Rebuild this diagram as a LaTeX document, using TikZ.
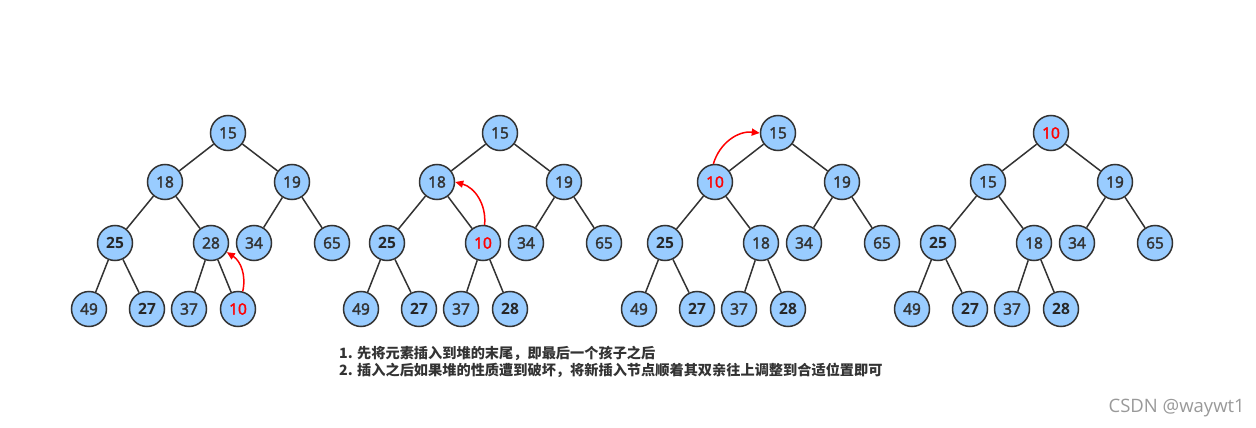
\documentclass[tikz,border=0pt]{standalone}
\usepackage{fontspec}
\setmainfont{Open Sans}
\newfontfamily\cjkfont{Noto Sans CJK SC}
\newfontfamily\numfont[FakeBold=2.5]{Open Sans}
\newfontfamily\numbold{Open Sans Bold}
\usetikzlibrary{arrows.meta}
\definecolor{nodefill}{HTML}{99CCFF}
\definecolor{edgec}{HTML}{333333}
\newcommand\heapedges[1]{%
  \draw[edge] (#1-1) -- (#1-2);
  \draw[edge] (#1-1) -- (#1-3);
  \draw[edge] (#1-2) -- (#1-4);
  \draw[edge] (#1-2) -- (#1-5);
  \draw[edge] (#1-3) -- (#1-6);
  \draw[edge] (#1-3) -- (#1-7);
  \draw[edge] (#1-4) -- (#1-8);
  \draw[edge] (#1-4) -- (#1-9);
  \draw[edge] (#1-5) -- (#1-10);
  \draw[edge] (#1-5) -- (#1-11);}
\newcommand\heapnodes[1]{%
  \node[nd] (#1-6) at (26,243) {34};
  \node[nd] (#1-7) at (104,243) {65};
  \node[nd,bd] (#1-4) at (-113,243) {25};
  \node[nd] (#1-8) at (-139,309) {49};
  \node[nd,bd] (#1-9) at (-81,309) {27};
  \node[nd] (#1-10) at (-39,309) {37};}
\begin{document}
\begin{tikzpicture}[x=1pt,y=-1pt,
 nd/.style={circle,draw=edgec,line width=1.5pt,fill=nodefill,minimum size=35pt,inner sep=0pt,font=\fontsize{15.5}{15.5}\numfont,text=edgec},
 bd/.style={font=\fontsize{15.5}{15.5}\numbold,text=black!85},
 hot/.style={text=red},
 edge/.style={draw=edgec,line width=1.5pt},
 arr/.style={draw=red,line width=1.5pt,-{Triangle[length=8pt,width=7pt]}}]
\useasboundingbox (0,0) rectangle (1256,428);
% tree 1
\begin{scope}[shift={(228,0)}]
\heapnodes{a}
\node[nd] (a-1) at (0,133) {15};
\node[nd] (a-2) at (-63,182) {18};
\node[nd] (a-3) at (64,182) {19};
\node[nd] (a-5) at (-17,243) {28};
\node[nd,hot] (a-11) at (10,309) {10};
\heapedges{a}
\draw[arr] (a-11.75) to[bend right=35] (a-5.-30);
\end{scope}
% tree 2
\begin{scope}[shift={(500,0)}]
\heapnodes{b}
\node[nd] (b-1) at (0,133) {15};
\node[nd] (b-2) at (-63,182) {18};
\node[nd] (b-3) at (64,182) {19};
\node[nd,hot] (b-5) at (-17,243) {10};
\node[nd,bd] (b-11) at (10,309) {28};
\heapedges{b}
\draw[arr] (b-5.85) to[bend right=40] (b-2.east);
\end{scope}
% tree 3
\begin{scope}[shift={(778,0)}]
\heapnodes{c}
\node[nd] (c-1) at (0,133) {15};
\node[nd,hot] (c-2) at (-63,182) {10};
\node[nd] (c-3) at (64,182) {19};
\node[nd] (c-5) at (-17,243) {18};
\node[nd,bd] (c-11) at (10,309) {28};
\heapedges{c}
\draw[arr] (c-2.95) to[bend left=40] (c-1.west);
\end{scope}
% tree 4
\begin{scope}[shift={(1051,0)}]
\heapnodes{d}
\node[nd,hot] (d-1) at (0,133) {10};
\node[nd] (d-2) at (-63,182) {15};
\node[nd] (d-3) at (64,182) {19};
\node[nd] (d-5) at (-17,243) {18};
\node[nd,bd] (d-11) at (10,309) {28};
\heapedges{d}
\end{scope}
% notes
\node[anchor=west,inner sep=0pt,text=edgec,font=\fontsize{14.2}{17}\cjkfont\bfseries] (t1) at (339,353) {1. 先将元素插入到堆的末尾，即最后一个孩子之后};
\node[anchor=west,inner sep=0pt,text=edgec,font=\fontsize{14.2}{17}\cjkfont\bfseries] (t2) at (339,370) {2. 插入之后如果堆的性质遭到破坏，将新插入节点顺着其双亲往上调整到合适位置即可};
\node[anchor=east,inner sep=0pt,text=black!40,font=\fontsize{18.5}{18.5}\selectfont] (wm) at (1245,408) {CSDN @waywt1};
\end{tikzpicture}
\end{document}
